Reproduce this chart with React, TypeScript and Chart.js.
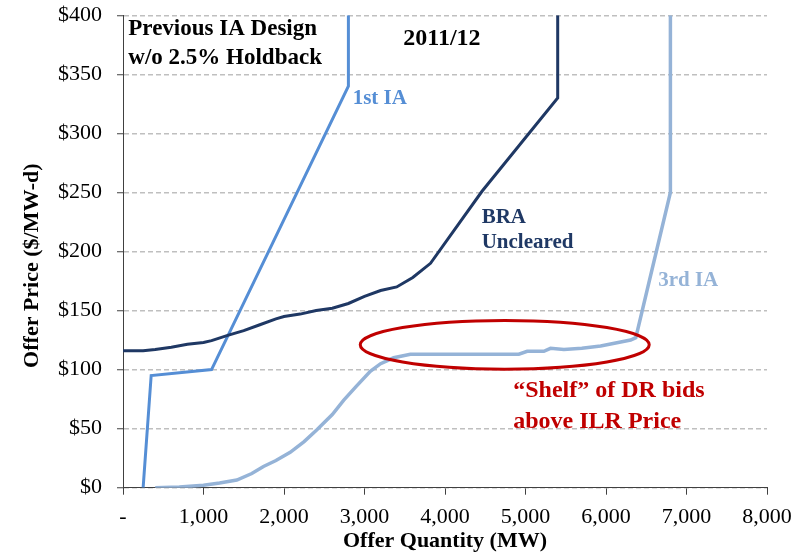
import React, { useEffect, useRef } from 'react';
import { Chart, registerables } from 'chart.js';

Chart.register(...registerables);

const FONT = "'Liberation Serif', 'Times New Roman', serif";

// X axis (Offer Quantity, MW) and Y axis (Offer Price, $/MW-d)
const xMin = 0;
const xMax = 8000;
const xStep = 1000;
const yMin = 0;
const yMax = 400;
const yStep = 50;
const xTitle = 'Offer Quantity (MW)';
const yTitle = 'Offer Price ($/MW-d)';

// 1st IA offer curve
const firstIAQty = [250, 350, 1100, 2800, 2800];
const firstIAPrice = [0, 95, 100, 340, 400];

// BRA uncleared offer curve
const braQty = [0, 250, 400, 600, 800, 1000, 1100, 1300, 1500, 1700, 1900, 2000, 2200, 2400, 2600, 2800, 3000, 3200, 3400, 3600, 3820, 4460, 5400, 5400];
const braPrice = [116, 116, 117, 119, 121.5, 123, 124.5, 129, 133, 138, 143, 145, 147, 150, 152, 156, 162, 167, 170, 178, 190, 251, 330, 400];

// 3rd IA offer curve
const thirdIAQty = [400, 700, 1000, 1200, 1414, 1600, 1745, 1900, 2077, 2250, 2409, 2600, 2740, 2900, 3072, 3200, 3362, 3570, 4917, 5021, 5228, 5311, 5477, 5700, 5933, 6306, 6370, 6800, 6800];
const thirdIAPrice = [0, 0.5, 2, 4, 6.5, 12, 18, 23, 30, 39, 49, 62, 74, 86, 98.5, 105, 110, 113, 113, 115.5, 115.5, 118, 117, 118, 120, 125, 127, 250, 400];

// "Shelf" ellipse (center & radii in data units)
const shelfCenter = { x: 4742, y: 121 };
const shelfRadius = { x: 1795, y: 20.6 };

// Text annotations anchored in data units (left / baseline)
const annotations = [
  { text: 'Previous IA Design', x: 66, y: 382.9, color: '#000000', size: 23 },
  { text: 'w/o 2.5% Holdback', x: 66, y: 358.8, color: '#000000', size: 23 },
  { text: '2011/12', x: 3481, y: 375.0, color: '#000000', size: 24 },
  { text: '1st IA', x: 2853, y: 324.9, color: '#558ED5', size: 21 },
  { text: 'BRA', x: 4455, y: 224.4, color: '#1F3864', size: 21 },
  { text: 'Uncleared', x: 4455, y: 203.2, color: '#1F3864', size: 21 },
  { text: '3rd IA', x: 6648, y: 171.2, color: '#95B3D7', size: 21 },
  { text: '\u201CShelf\u201D of DR bids', x: 4848, y: 76.4, color: '#C00000', size: 24 },
  { text: 'above ILR Price', x: 4848, y: 50.9, color: '#C00000', size: 24 },
];

// y-axis title anchor: value at which the title is centred
const yTitleCenterValue = 188;

const zip = (xs: number[], ys: number[]) => xs.map((x, i) => ({ x, y: ys[i] }));

const overlayPlugin = {
  id: 'overlay',
  afterDatasetsDraw(chart: any) {
    const { ctx, scales } = chart;
    const xs = scales.x;
    const ys = scales.y;
    const cx = xs.getPixelForValue(shelfCenter.x);
    const cy = ys.getPixelForValue(shelfCenter.y);
    const rx = Math.abs(xs.getPixelForValue(shelfCenter.x + shelfRadius.x) - cx);
    const ry = Math.abs(ys.getPixelForValue(shelfCenter.y + shelfRadius.y) - cy);
    ctx.save();
    ctx.beginPath();
    ctx.ellipse(cx, cy, rx, ry, 0, 0, Math.PI * 2);
    ctx.strokeStyle = '#C00000';
    ctx.lineWidth = 3;
    ctx.stroke();
    ctx.restore();
  },
  afterDraw(chart: any) {
    const { ctx, scales } = chart;
    ctx.save();
    ctx.textAlign = 'left';
    ctx.textBaseline = 'alphabetic';
    annotations.forEach((a) => {
      ctx.font = `bold ${a.size}px ${FONT}`;
      ctx.fillStyle = a.color;
      ctx.fillText(a.text, scales.x.getPixelForValue(a.x), scales.y.getPixelForValue(a.y));
    });
    // y-axis title
    const ty = scales.y.getPixelForValue(yTitleCenterValue);
    ctx.translate(scales.y.left + 32, ty);
    ctx.rotate(-Math.PI / 2);
    ctx.textAlign = 'center';
    ctx.textBaseline = 'middle';
    ctx.font = `bold 22px ${FONT}`;
    ctx.fillStyle = '#000000';
    ctx.fillText(yTitle, 0, 0);
    ctx.restore();
  },
};

export default function App() {
  const canvasRef = useRef<HTMLCanvasElement | null>(null);

  useEffect(() => {
    if (!canvasRef.current) return;
    const chart = new Chart(canvasRef.current, {
      type: 'line',
      data: {
        datasets: [
          {
            label: '3rd IA',
            data: zip(thirdIAQty, thirdIAPrice),
            borderColor: '#95B3D7',
            borderWidth: 3.5,
            pointRadius: 0,
            fill: false,
            tension: 0,
          },
          {
            label: 'BRA Uncleared',
            data: zip(braQty, braPrice),
            borderColor: '#1F3864',
            borderWidth: 3,
            pointRadius: 0,
            fill: false,
            tension: 0,
          },
          {
            label: '1st IA',
            data: zip(firstIAQty, firstIAPrice),
            borderColor: '#558ED5',
            borderWidth: 3,
            pointRadius: 0,
            fill: false,
            tension: 0,
          },
        ],
      },
      options: {
        animation: false,
        responsive: false,
        maintainAspectRatio: false,
        layout: { padding: { top: 15.3, right: 29, left: 0, bottom: 0 } },
        plugins: { legend: { display: false }, tooltip: { enabled: false } },
        scales: {
          x: {
            type: 'linear',
            min: xMin,
            max: xMax,
            ticks: {
              stepSize: xStep,
              autoSkip: false,
              maxRotation: 0,
              padding: 9,
              color: '#000000',
              font: { family: FONT, size: 22 },
              callback: (v: any) => (Number(v) === 0 ? '-' : Number(v).toLocaleString('en-US')),
            },
            grid: {
              drawOnChartArea: false,
              drawTicks: true,
              tickLength: 7,
              tickColor: '#404040',
              tickWidth: 1,
            },
            border: { color: '#404040', width: 1 },
            title: {
              display: true,
              text: xTitle,
              color: '#000000',
              font: { family: FONT, size: 22, weight: 'bold' },
              padding: { top: 0, bottom: 2 },
            },
            afterFit: (s: any) => {
              s.height = 69.3;
              s.paddingLeft = 0;
              s.paddingRight = 0;
            },
          },
          y: {
            min: yMin,
            max: yMax,
            ticks: {
              stepSize: yStep,
              padding: 15,
              color: '#000000',
              font: { family: FONT, size: 22 },
              callback: (v: any) => '$' + v,
            },
            grid: {
              color: '#BFBFBF',
              lineWidth: 1.5,
              tickLength: 6,
              tickColor: '#404040',
              tickWidth: 1,
              tickBorderDash: [],
            },
            border: { color: '#404040', width: 1, dash: [5, 3] },
            title: { display: false },
            afterFit: (s: any) => {
              s.width = 123;
              s.paddingTop = 0;
              s.paddingBottom = 0;
            },
          },
        },
      } as any,
      plugins: [overlayPlugin],
    });
    return () => chart.destroy();
  }, []);

  return (
    <div style={{ position: 'fixed', left: 0, top: 0, width: 796, height: 557, background: '#ffffff' }}>
      <canvas ref={canvasRef} width={796} height={557} style={{ display: 'block', width: 796, height: 557 }} />
    </div>
  );
}
